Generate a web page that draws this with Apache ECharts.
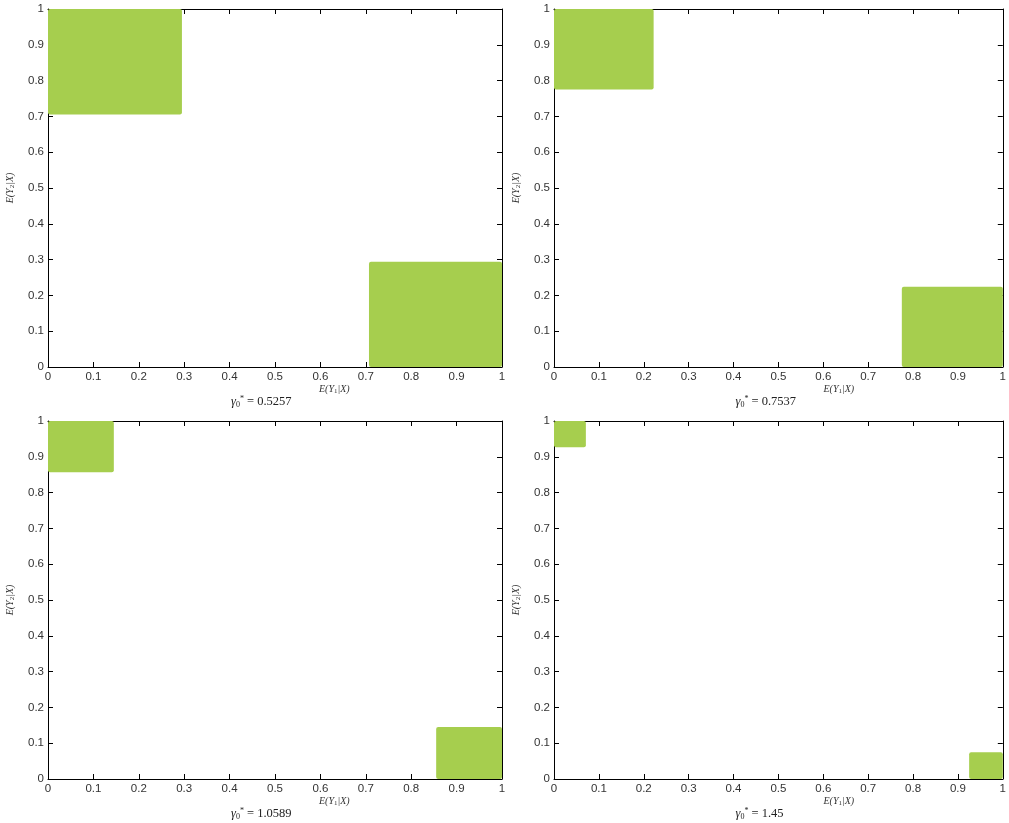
<!DOCTYPE html>
<html>
<head>
<meta charset="utf-8">
<script src="https://cdn.jsdelivr.net/npm/echarts@6/dist/echarts.min.js"></script>
<style>
  html, body { margin: 0; padding: 0; background: #fff; }
  #main { width: 1009px; height: 823px; }
</style>
</head>
<body>
<div id="main"></div>
<script>
// values
var gammaValues = ['0.5257', '0.7537', '1.0589', '1.45'];
var upperLeftX1 = [0.295, 0.222, 0.145, 0.071];
var upperLeftY0 = [0.705, 0.775, 0.857, 0.927];
var lowerRightX0 = [0.707, 0.775, 0.855, 0.925];
var lowerRightY1 = [0.294, 0.224, 0.145, 0.075];
var tickValues = [0, 0.1, 0.2, 0.3, 0.4, 0.5, 0.6, 0.7, 0.8, 0.9, 1];

var myChart = echarts.init(document.getElementById('main'));

var panels = [
    { left: 48, top: 9, width: 454 },
    { left: 554, top: 9, width: 451 },
    { left: 48, top: 421, width: 454 },
    { left: 554, top: 421, width: 451 }
];
var plotHeight = 358;
var green = '#a6ce4e';
var sans = '"Liberation Sans", Arial, sans-serif';
var serif = '"Liberation Serif", "DejaVu Serif", serif';

var grids = [], xAxes = [], yAxes = [], series = [], graphics = [];

function tickLabel(v) {
    return String(Math.round(v * 10) / 10);
}

panels.forEach(function (p, i) {
    grids.push({ left: p.left, top: p.top, width: p.width, height: plotHeight });
    var common = {
        gridIndex: i, min: 0, max: 1, interval: 0.1,
        axisLine: { show: true, onZero: false, lineStyle: { color: '#000', width: 1 } },
        axisTick: { show: true, inside: true, length: 5, lineStyle: { color: '#000' } },
        splitLine: { show: false }
    };
    var labelStyle = { show: true, formatter: tickLabel, color: '#333', fontSize: 11.5, fontFamily: sans, margin: 4 };
    xAxes.push(Object.assign({}, common, { type: 'value', position: 'bottom', axisLabel: labelStyle }));
    xAxes.push(Object.assign({}, common, { type: 'value', position: 'top', axisLabel: { show: false } }));
    yAxes.push(Object.assign({}, common, { type: 'value', position: 'left', axisLabel: labelStyle }));
    yAxes.push(Object.assign({}, common, { type: 'value', position: 'right', axisLabel: { show: false } }));

    var rects = [
        [0, upperLeftX1[i], upperLeftY0[i], 1],
        [lowerRightX0[i], 1, 0, lowerRightY1[i]]
    ];
    series.push({
        type: 'custom',
        xAxisIndex: i * 2,
        yAxisIndex: i * 2,
        data: rects,
        silent: true,
        renderItem: function (params, api) {
            var a = api.coord([api.value(0), api.value(3)]);
            var b = api.coord([api.value(1), api.value(2)]);
            return {
                type: 'rect',
                shape: { x: a[0], y: a[1], width: b[0] - a[0], height: b[1] - a[1], r: 2 },
                style: { fill: green }
            };
        }
    });

    // axis names and the gamma note
    graphics.push({
        type: 'text',
        left: p.left + p.width / 2 + 65 - 21,
        top: p.top + plotHeight + 17,
        style: {
            text: '{i|E}(Y{s|1}|X)',
            font: 'italic 10px ' + serif, fill: '#333',
            rich: {
                i: { font: 'italic 10px ' + serif, fill: '#333' },
                s: { font: '7px ' + serif, fill: '#333', padding: [4, 0, 0, 0] }
            }
        }
    });
    graphics.push({
        type: 'text',
        left: p.left + p.width / 2 - 44,
        top: p.top + plotHeight + 28,
        style: {
            text: '{g|γ}{s|0}{p|*} = ' + gammaValues[i],
            font: '12.5px ' + serif, fill: '#222',
            rich: {
                g: { font: 'italic 12.5px ' + serif, fill: '#222' },
                s: { font: '8px ' + serif, fill: '#222', padding: [6, 0, 0, 0] },
                p: { font: '8px ' + serif, fill: '#222', padding: [0, 0, 5, 0] }
            }
        }
    });
    graphics.push({
        type: 'text',
        x: p.left - 38,
        y: p.top + plotHeight / 2,
        rotation: Math.PI / 2,
        style: {
            text: '{i|E}(Y{s|2}|X)',
            font: 'italic 10px ' + serif, fill: '#333', align: 'center', verticalAlign: 'middle',
            rich: {
                i: { font: 'italic 10px ' + serif, fill: '#333' },
                s: { font: '7px ' + serif, fill: '#333', padding: [4, 0, 0, 0] }
            }
        }
    });
});

var option = {
    animation: false,
    grid: grids,
    xAxis: xAxes,
    yAxis: yAxes,
    series: series,
    graphic: graphics
};

myChart.setOption(option);
</script>
</body>
</html>
